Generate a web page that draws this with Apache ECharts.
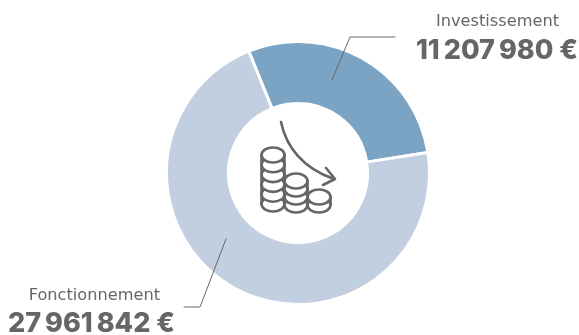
<!DOCTYPE html>
<html><head><meta charset="utf-8">
<style>html,body{margin:0;padding:0;background:#fff}#c{width:579px;height:335px}</style>
<script src="https://cdn.jsdelivr.net/npm/echarts@6/dist/echarts.min.js"></script>
</head><body><div id="c"></div>
<script>
const categories = ['Investissement', 'Fonctionnement'];
const values = [11207980, 27961842];
const valueLabels = ['11\u2009207\u2009980 €', '27\u2009961\u2009842 €'];
const colors = ['#7ba4c4', '#c2cfe1'];
const ink = '#666666';
const chart = echarts.init(document.getElementById('c'), null, {renderer:'canvas'});

const lineStyle = w => ({fill:null, stroke:ink, lineWidth:w, lineCap:'round', lineJoin:'round'});
const poly = (points, w) => ({type:'polyline', silent:true, z:10, shape:{points}, style:lineStyle(w)});
function stack(cx, topY, n, step) {
  const rx = 11.5, ry = 7.5, out = [], st = {fill:'#fff', stroke:ink, lineWidth:2.6};
  for (let i = n; i >= 0; i--) {
    out.push({type:'ellipse', silent:true, z:10, shape:{cx, cy:topY + i * step, rx, ry}, style:st});
  }
  out.push(poly([[cx-rx,topY],[cx-rx,topY+n*step]],2.6));
  out.push(poly([[cx+rx,topY],[cx+rx,topY+n*step]],2.6));
  return out;
}
const text = (x, y, s, size, weight, family) => ({type:'text', silent:true, z:10, x, y,
  style:{text:s, fill:ink, font:`${weight} ${size}px ${family}`, textAlign:'right', textVerticalAlign:'middle'}});

chart.setOption({
  animation:false,
  series:[{
    type:'pie', center:[298,173], radius:[69.5,131.5], startAngle:112, clockwise:true,
    label:{show:false}, labelLine:{show:false}, silent:true,
    itemStyle:{borderColor:'#fff', borderWidth:3},
    data:categories.map((name,i)=>({name, value:values[i], itemStyle:{color:colors[i]}}))
  }],
  graphic:[
    ...stack(273,155,5,9.8),
    ...stack(296,181,3,8),
    ...stack(319,197,1,8),
    {type:'bezierCurve', silent:true, z:10, shape:{x1:281,y1:122,cpx1:286,cpy1:146,cpx2:302,cpy2:168,x2:334,y2:179}, style:lineStyle(2.6)},
    poly([[326,168],[335,179],[323,185]],2.6),
    poly([[332,80],[350,37],[395,37]],1),
    poly([[226,239],[200,307],[184,307]],1),
    text(559,22,categories[0],16.2,400,'"DejaVu Sans"'),
    text(578,51,valueLabels[0],27,800,'Inter'),
    text(160,296,categories[1],16.2,400,'"DejaVu Sans"'),
    text(175,324,valueLabels[1],27,800,'Inter')
  ]
});
</script></body></html>
